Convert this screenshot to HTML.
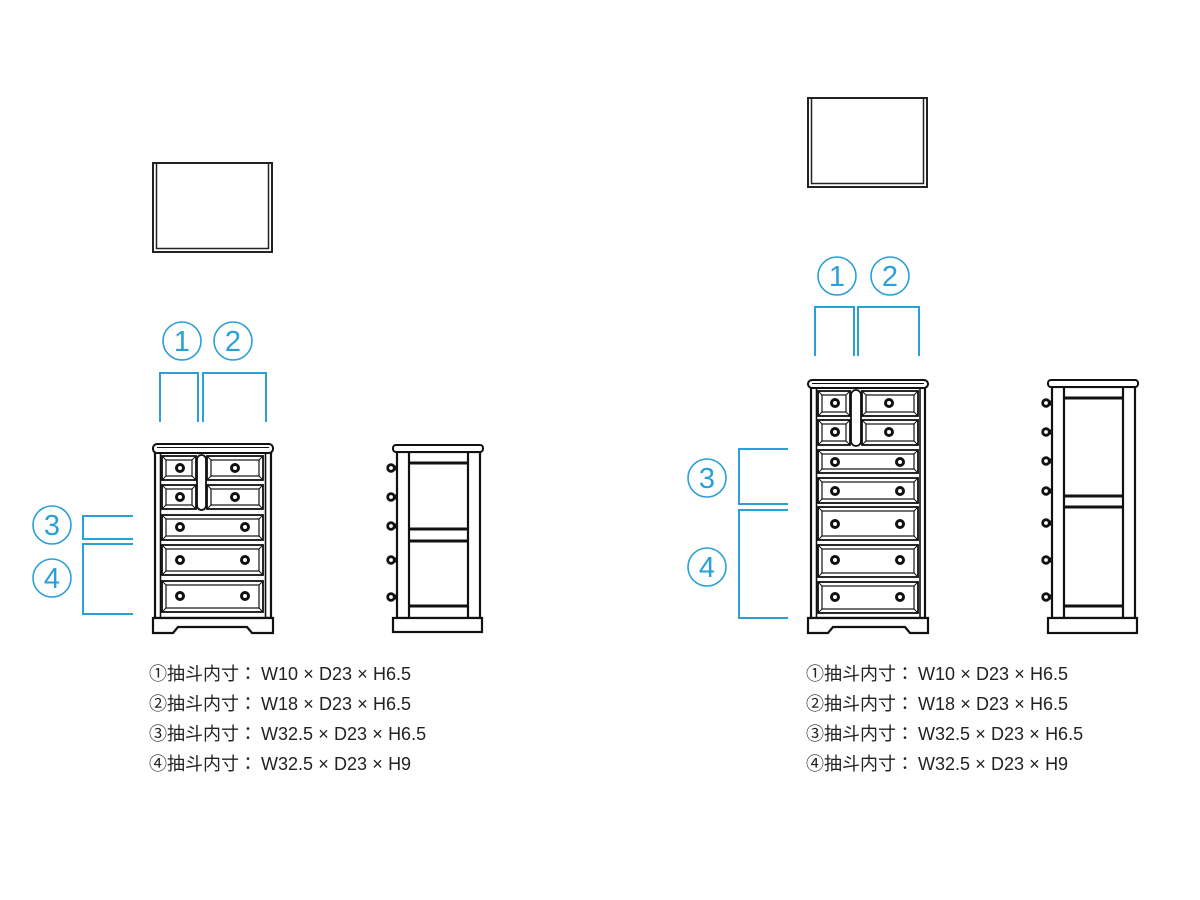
<!DOCTYPE html>
<html><head><meta charset="utf-8"><style>
html,body{margin:0;padding:0;background:#fff;}
body{width:1200px;height:900px;position:relative;overflow:hidden;}
svg{position:absolute;left:0;top:0;}
.t{position:absolute;font-family:"Liberation Sans","Noto Sans CJK JP",sans-serif;font-size:18px;line-height:30px;color:#222;white-space:nowrap;}
.x{display:inline-block;width:21px;text-align:center;}
.w{margin-left:4px;}
</style></head><body>
<svg width="1200" height="900" viewBox="0 0 1200 900" xmlns="http://www.w3.org/2000/svg">
<defs>
<g id="k"><circle cx="0" cy="0" r="3.5" fill="#fff" stroke="#111" stroke-width="3"/></g>
<g id="sk"><circle cx="0" cy="0" r="3.3" fill="#fff" stroke="#111" stroke-width="2.8"/><rect x="2.5" y="-2.5" width="3.5" height="5" fill="#111"/></g>
</defs>

<!-- top view rectangles -->
<g fill="none" stroke="#222">
<rect x="153" y="163" width="119" height="89" stroke-width="2"/>
<polyline points="156.5,163 156.5,248.5 268.5,248.5 268.5,163" stroke-width="1.5"/>
<rect x="808" y="98" width="119" height="89" stroke-width="2"/>
<polyline points="811.5,98 811.5,183.5 923.5,183.5 923.5,98" stroke-width="1.5"/>
</g>

<!-- LEFT CHEST FRONT -->
<g fill="#fff" stroke="#111">
<rect x="155" y="452" width="116" height="166" stroke-width="2.2"/>
<line x1="160.5" y1="452" x2="160.5" y2="618" stroke-width="1.6"/>
<line x1="265.5" y1="452" x2="265.5" y2="618" stroke-width="1.6"/>
<rect x="153" y="444" width="120" height="9" rx="4" stroke-width="2"/>
<line x1="157" y1="447.5" x2="269" y2="447.5" stroke-width="1"/>
<path d="M153,618 H273 V633 H252 L247,627 H178 L173,633 H153 Z" stroke-width="2.2"/>
<g stroke-width="1.8">
<rect x="162" y="456" width="34" height="24"/><rect x="166" y="460" width="26" height="16" stroke-width="1.2"/>
<rect x="207" y="456" width="56" height="24"/><rect x="211" y="460" width="48" height="16" stroke-width="1.2"/>
<rect x="162" y="485" width="34" height="24"/><rect x="166" y="489" width="26" height="16" stroke-width="1.2"/>
<rect x="207" y="485" width="56" height="24"/><rect x="211" y="489" width="48" height="16" stroke-width="1.2"/>
<rect x="197" y="455" width="9" height="55" rx="4.5"/>
<rect x="162" y="515" width="101" height="25"/><rect x="166" y="519" width="93" height="17" stroke-width="1.2"/>
<rect x="162" y="545" width="101" height="30"/><rect x="166" y="549" width="93" height="22" stroke-width="1.2"/>
<rect x="162" y="581" width="101" height="31"/><rect x="166" y="585" width="93" height="23" stroke-width="1.2"/>
</g>
<path fill="none" stroke-width="1" d="M162,456l4,4M196,456l-4,4M162,480l4,-4M196,480l-4,-4 M207,456l4,4M263,456l-4,4M207,480l4,-4M263,480l-4,-4 M162,485l4,4M196,485l-4,4M162,509l4,-4M196,509l-4,-4 M207,485l4,4M263,485l-4,4M207,509l4,-4M263,509l-4,-4 M162,515l4,4M263,515l-4,4M162,540l4,-4M263,540l-4,-4 M162,545l4,4M263,545l-4,4M162,575l4,-4M263,575l-4,-4 M162,581l4,4M263,581l-4,4M162,612l4,-4M263,612l-4,-4"/>
</g>
<use href="#k" x="180" y="468"/><use href="#k" x="235" y="468"/>
<use href="#k" x="180" y="497"/><use href="#k" x="235" y="497"/>
<use href="#k" x="180" y="527"/><use href="#k" x="245" y="527"/>
<use href="#k" x="180" y="560"/><use href="#k" x="245" y="560"/>
<use href="#k" x="180" y="596"/><use href="#k" x="245" y="596"/>

<!-- LEFT SIDE VIEW -->
<g fill="#fff" stroke="#111">
<rect x="397" y="452" width="83" height="166" stroke-width="2.2"/>
<line x1="409" y1="452" x2="409" y2="618" stroke-width="2.2"/>
<line x1="468" y1="452" x2="468" y2="618" stroke-width="2.2"/>
<rect x="393" y="445" width="90" height="7" rx="3" stroke-width="2"/>
<rect x="393" y="618" width="89" height="14" stroke-width="2.2"/>
<g stroke-width="3">
<line x1="409" y1="463" x2="468" y2="463"/>
<line x1="409" y1="529" x2="468" y2="529"/>
<line x1="409" y1="541" x2="468" y2="541"/>
<line x1="409" y1="606" x2="468" y2="606"/>
</g>
</g>
<use href="#sk" x="391" y="468"/><use href="#sk" x="391" y="497"/><use href="#sk" x="391" y="526"/><use href="#sk" x="391" y="560"/><use href="#sk" x="391" y="597"/>

<!-- RIGHT CHEST FRONT -->
<g fill="#fff" stroke="#111">
<rect x="811" y="387" width="114" height="231" stroke-width="2.2"/>
<line x1="816.5" y1="387" x2="816.5" y2="618" stroke-width="1.6"/>
<line x1="920" y1="387" x2="920" y2="618" stroke-width="1.6"/>
<rect x="808" y="380" width="120" height="8" rx="4" stroke-width="2"/>
<line x1="812" y1="383.5" x2="924" y2="383.5" stroke-width="1"/>
<path d="M808,618 H928 V633 H910 L905,627 H833 L828,633 H808 Z" stroke-width="2.2"/>
<g stroke-width="1.8">
<rect x="818" y="391" width="32" height="25"/><rect x="822" y="395" width="24" height="17" stroke-width="1.2"/>
<rect x="862" y="391" width="56" height="25"/><rect x="866" y="395" width="48" height="17" stroke-width="1.2"/>
<rect x="818" y="420" width="32" height="25"/><rect x="822" y="424" width="24" height="17" stroke-width="1.2"/>
<rect x="862" y="420" width="56" height="25"/><rect x="866" y="424" width="48" height="17" stroke-width="1.2"/>
<rect x="851" y="390" width="10" height="56" rx="5"/>
<rect x="818" y="450" width="100" height="23"/><rect x="822" y="454" width="92" height="15" stroke-width="1.2"/>
<rect x="818" y="478" width="100" height="25"/><rect x="822" y="482" width="92" height="17" stroke-width="1.2"/>
<rect x="818" y="507" width="100" height="33"/><rect x="822" y="511" width="92" height="25" stroke-width="1.2"/>
<rect x="818" y="545" width="100" height="32"/><rect x="822" y="549" width="92" height="24" stroke-width="1.2"/>
<rect x="818" y="582" width="100" height="31"/><rect x="822" y="586" width="92" height="23" stroke-width="1.2"/>
</g>
<path fill="none" stroke-width="1" d="M818,391l4,4M850,391l-4,4M818,416l4,-4M850,416l-4,-4 M862,391l4,4M918,391l-4,4M862,416l4,-4M918,416l-4,-4 M818,420l4,4M850,420l-4,4M818,445l4,-4M850,445l-4,-4 M862,420l4,4M918,420l-4,4M862,445l4,-4M918,445l-4,-4 M818,450l4,4M918,450l-4,4M818,473l4,-4M918,473l-4,-4 M818,478l4,4M918,478l-4,4M818,503l4,-4M918,503l-4,-4 M818,507l4,4M918,507l-4,4M818,540l4,-4M918,540l-4,-4 M818,545l4,4M918,545l-4,4M818,577l4,-4M918,577l-4,-4 M818,582l4,4M918,582l-4,4M818,613l4,-4M918,613l-4,-4"/>
</g>
<use href="#k" x="835" y="403"/><use href="#k" x="889" y="403"/>
<use href="#k" x="835" y="432"/><use href="#k" x="889" y="432"/>
<use href="#k" x="835" y="462"/><use href="#k" x="900" y="462"/>
<use href="#k" x="835" y="491"/><use href="#k" x="900" y="491"/>
<use href="#k" x="835" y="524"/><use href="#k" x="900" y="524"/>
<use href="#k" x="835" y="560"/><use href="#k" x="900" y="560"/>
<use href="#k" x="835" y="597"/><use href="#k" x="900" y="597"/>

<!-- RIGHT SIDE VIEW -->
<g fill="#fff" stroke="#111">
<rect x="1052" y="387" width="83" height="231" stroke-width="2.2"/>
<line x1="1064" y1="387" x2="1064" y2="618" stroke-width="2.2"/>
<line x1="1123" y1="387" x2="1123" y2="618" stroke-width="2.2"/>
<rect x="1048" y="380" width="90" height="7" rx="3" stroke-width="2"/>
<rect x="1048" y="618" width="89" height="15" stroke-width="2.2"/>
<g stroke-width="3">
<line x1="1064" y1="398" x2="1123" y2="398"/>
<line x1="1064" y1="496" x2="1123" y2="496"/>
<line x1="1064" y1="507" x2="1123" y2="507"/>
<line x1="1064" y1="606" x2="1123" y2="606"/>
</g>
</g>
<use href="#sk" x="1046" y="403"/><use href="#sk" x="1046" y="432"/><use href="#sk" x="1046" y="461"/><use href="#sk" x="1046" y="491"/><use href="#sk" x="1046" y="523"/><use href="#sk" x="1046" y="560"/><use href="#sk" x="1046" y="597"/>

<!-- BLUE brackets -->
<g fill="none" stroke="#2a9fd8" stroke-width="2">
<polyline points="160,422 160,373 198,373 198,422"/>
<polyline points="203,422 203,373 266,373 266,422"/>
<polyline points="133,516 83,516 83,539 133,539"/>
<polyline points="133,544 83,544 83,614 133,614"/>
<polyline points="815,356 815,307 854,307 854,356"/>
<polyline points="858,356 858,307 919,307 919,356"/>
<polyline points="788,449 739,449 739,504 788,504"/>
<polyline points="788,510 739,510 739,618 788,618"/>
</g>
<g fill="none" stroke="#2a9fd8" stroke-width="1.6">
<circle cx="182" cy="341" r="19"/><circle cx="233" cy="341" r="19"/>
<circle cx="52" cy="525" r="19"/><circle cx="52" cy="578" r="19"/>
<circle cx="837" cy="276" r="19"/><circle cx="890" cy="276" r="19"/>
<circle cx="707" cy="478" r="19"/><circle cx="707" cy="567" r="19"/>
</g>
<g fill="#2a9fd8" font-family="Liberation Sans, sans-serif" font-size="29" text-anchor="middle">
<text x="182" y="351">1</text><text x="233" y="351">2</text>
<text x="52" y="535">3</text><text x="52" y="588">4</text>
<text x="837" y="286">1</text><text x="890" y="286">2</text>
<text x="707" y="488">3</text><text x="707" y="577">4</text>
</g>
</svg>

<div class="t" style="left:149px;top:659px;">①抽斗内寸：<span class="w">W10</span><span class="x">×</span>D23<span class="x">×</span>H6.5</div>
<div class="t" style="left:149px;top:689px;">②抽斗内寸：<span class="w">W18</span><span class="x">×</span>D23<span class="x">×</span>H6.5</div>
<div class="t" style="left:149px;top:719px;">③抽斗内寸：<span class="w">W32.5</span><span class="x">×</span>D23<span class="x">×</span>H6.5</div>
<div class="t" style="left:149px;top:749px;">④抽斗内寸：<span class="w">W32.5</span><span class="x">×</span>D23<span class="x">×</span>H9</div>

<div class="t" style="left:806px;top:659px;">①抽斗内寸：<span class="w">W10</span><span class="x">×</span>D23<span class="x">×</span>H6.5</div>
<div class="t" style="left:806px;top:689px;">②抽斗内寸：<span class="w">W18</span><span class="x">×</span>D23<span class="x">×</span>H6.5</div>
<div class="t" style="left:806px;top:719px;">③抽斗内寸：<span class="w">W32.5</span><span class="x">×</span>D23<span class="x">×</span>H6.5</div>
<div class="t" style="left:806px;top:749px;">④抽斗内寸：<span class="w">W32.5</span><span class="x">×</span>D23<span class="x">×</span>H9</div>
</body></html>
